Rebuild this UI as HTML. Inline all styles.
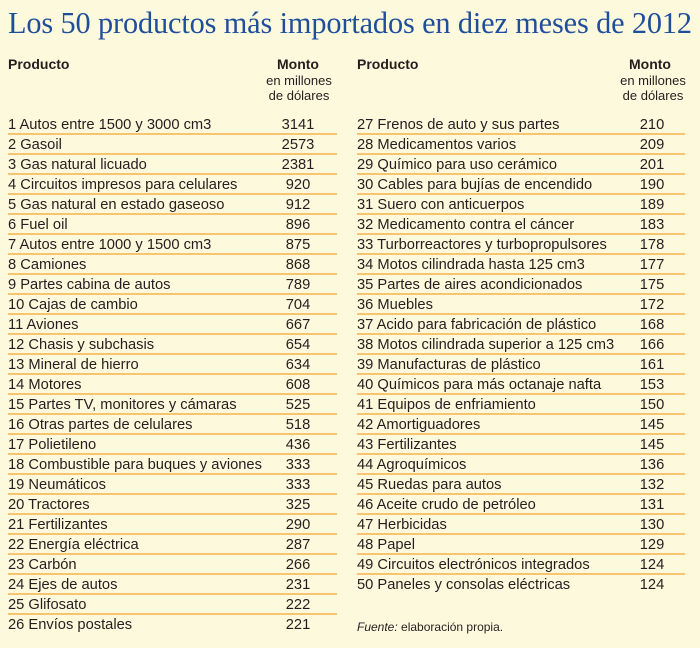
<!DOCTYPE html>
<html><head><meta charset="utf-8"><style>
body{margin:0;width:700px;height:648px;background:#fdf9dc;position:relative;overflow:hidden;font-family:"Liberation Sans",sans-serif;color:#231f20}
.t{position:absolute;left:8px;top:6px;font-family:"Liberation Serif",serif;font-size:30.3px;color:#1f4e9c;white-space:nowrap;letter-spacing:-0.13px}
.h{position:absolute;font-weight:bold;font-size:14px}
.s{position:absolute;font-size:13px;text-align:center;width:100px;line-height:15px}
.r{position:absolute;height:20px;line-height:20px;font-size:14.7px;white-space:nowrap}
.l{position:absolute;height:2px;background:#f9c46f}
.f{position:absolute;left:357px;top:620px;font-size:12px}
</style></head><body>
<div class="t">Los 50 productos más importados en diez meses de 2012</div>
<div class="h" style="left:277px;top:56px">Monto</div>
<div class="h" style="left:8px;top:56px">Producto</div>
<div class="s" style="left:249px;top:73px">en millones<br>de dólares</div>
<div class="h" style="left:357px;top:56px">Producto</div>
<div class="h" style="left:629px;top:56px">Monto</div>
<div class="s" style="left:603px;top:73px">en millones<br>de dólares</div>
<div id="c"></div>
<div class="f"><i>Fuente:</i> elaboración propia.</div>
<script>
var L=[["Autos entre 1500 y 3000 cm3",3141],["Gasoil",2573],["Gas natural licuado",2381],["Circuitos impresos para celulares",920],["Gas natural en estado gaseoso",912],["Fuel oil",896],["Autos entre 1000 y 1500 cm3",875],["Camiones",868],["Partes cabina de autos",789],["Cajas de cambio",704],["Aviones",667],["Chasis y subchasis",654],["Mineral de hierro",634],["Motores",608],["Partes TV, monitores y cámaras",525],["Otras partes de celulares",518],["Polietileno",436],["Combustible para buques y aviones",333],["Neumáticos",333],["Tractores",325],["Fertilizantes",290],["Energía eléctrica",287],["Carbón",266],["Ejes de autos",231],["Glifosato",222],["Envíos postales",221],
["Frenos de auto y sus partes",210],["Medicamentos varios",209],["Químico para uso cerámico",201],["Cables para bujías de encendido",190],["Suero con anticuerpos",189],["Medicamento contra el cáncer",183],["Turborreactores y turbopropulsores",178],["Motos cilindrada hasta 125 cm3",177],["Partes de aires acondicionados",175],["Muebles",172],["Acido para fabricación de plástico",168],["Motos cilindrada superior a 125 cm3",166],["Manufacturas de plástico",161],["Químicos para más octanaje nafta",153],["Equipos de enfriamiento",150],["Amortiguadores",145],["Fertilizantes",145],["Agroquímicos",136],["Ruedas para autos",132],["Aceite crudo de petróleo",131],["Herbicidas",130],["Papel",129],["Circuitos electrónicos integrados",124],["Paneles y consolas eléctricas",124]];
var h="";
L.forEach(function(d,i){var left=i<26,j=left?i:i-26,x=left?8:357,y=115+20*j,nx=left?268:622;
h+='<div class="r" style="left:'+x+'px;top:'+y+'px">'+(i+1)+' '+d[0]+'</div><div class="r" style="left:'+nx+'px;top:'+y+'px;width:60px;text-align:center">'+d[1]+'</div>';
if((left&&j<25)||(!left&&j<23))h+='<div class="l" style="left:'+x+'px;top:'+(y+18)+'px;width:'+(left?329:328)+'px"></div>';});
document.getElementById("c").innerHTML=h;
</script>
</body></html>
